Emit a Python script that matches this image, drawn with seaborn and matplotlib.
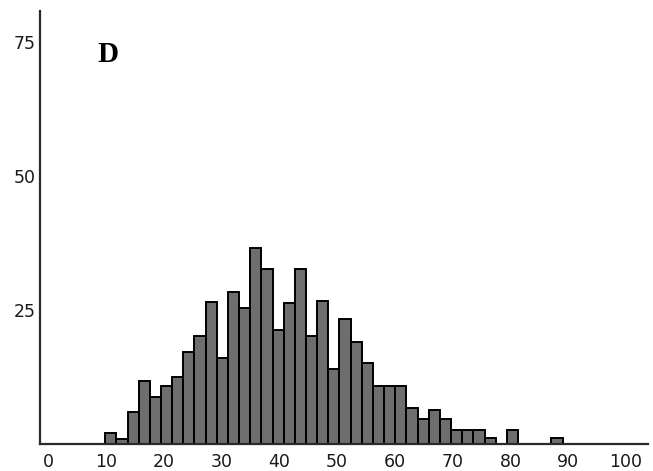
#!/usr/bin/env python3
# Histogram panel "D" redrawn with seaborn.
from matplotlib import pyplot as plt
import numpy as np
import pandas as pd
import seaborn as sns

# bar heights, one per bin (left to right)
counts = [2.1, 1.0, 6.0, 11.8, 8.8, 10.9, 12.5, 17.1, 20.2, 26.5,
          16.1, 28.3, 25.4, 36.6, 32.6, 21.3, 26.4, 32.6, 20.2, 26.6,
          14.0, 23.3, 19.1, 15.1, 10.9, 10.9, 10.9, 6.7, 4.7, 6.3,
          4.7, 2.7, 2.7, 2.7, 1.1, 0.0, 2.7, 0.0, 0.0, 0.0, 1.1]
bin_start = 9.9
bin_width = 1.93

x_ticks = [0, 10, 20, 30, 40, 50, 60, 70, 80, 90, 100]
y_ticks = [25, 50, 75]
panel_label = "D"


def plot_histogram(fig_location: str = "out.png"):
    n_bins = len(counts)
    centers = bin_start + bin_width * (np.arange(n_bins) + 0.5)
    df = pd.DataFrame({"value": centers, "count": counts})

    sns.set_theme(style="white")
    plt.rcParams["font.family"] = ["DejaVu Sans"]

    fig = plt.figure(figsize=(6.53, 4.71), dpi=100)
    ax = fig.add_axes([40 / 653, 26.7 / 471, 608 / 653, 433.3 / 471])

    sns.histplot(data=df, x="value", weights="count", ax=ax,
                 binwidth=bin_width, binrange=(bin_start, bin_start + n_bins * bin_width),
                 color="#6e6e6e", alpha=1, edgecolor="black", linewidth=1.4)

    ax.set_xlim(-1.38, 103.8)
    ax.set_ylim(0, 80.7)
    ax.set_xticks(x_ticks)
    ax.set_yticks(y_ticks)
    ax.set_xlabel(None)
    ax.set_ylabel(None)
    ax.tick_params(axis="both", length=0, labelsize=12.5, colors="#1a1a1a")
    ax.tick_params(axis="x", pad=6)
    ax.tick_params(axis="y", pad=3)

    sns.despine(ax=ax)
    for side in ["left", "bottom"]:
        ax.spines[side].set_color("#2a2a2a")
        ax.spines[side].set_linewidth(1.6)

    ax.text(0.112, 0.9, panel_label, transform=ax.transAxes, ha="center", va="center",
            fontsize=21, fontweight="bold", color="black",
            family=["Liberation Serif", "DejaVu Serif"])

    fig.savefig(fig_location, dpi=100)


if __name__ == "__main__":
    plot_histogram("out.png")
